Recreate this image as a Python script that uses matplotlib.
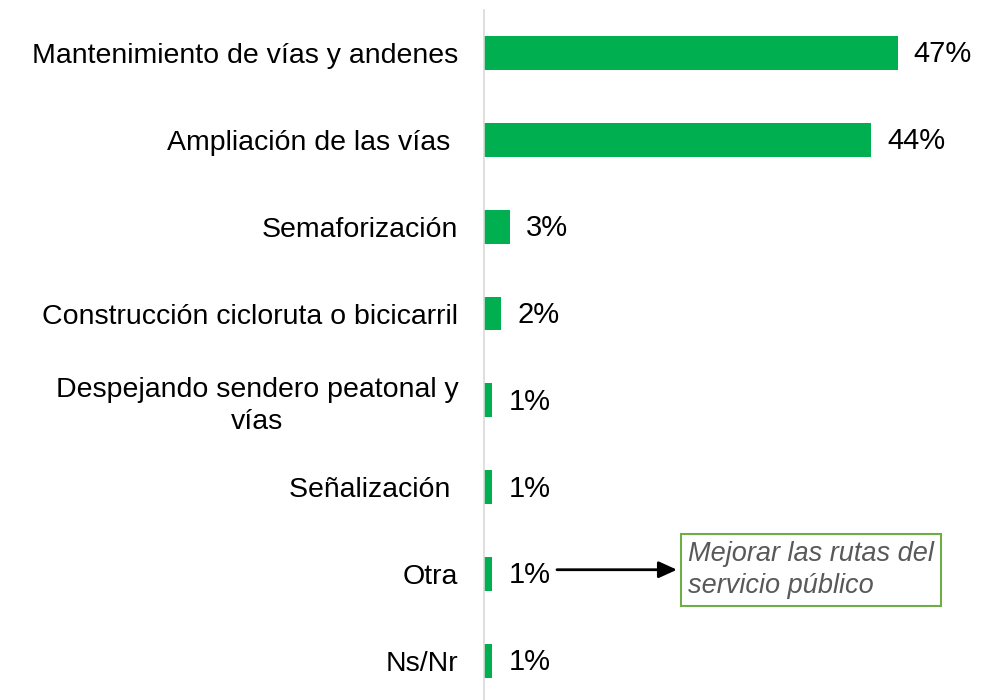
import matplotlib
matplotlib.use("Agg")
import matplotlib.pyplot as plt

categories = [
    "Mantenimiento de vías y andenes",
    "Ampliación de las vías ",
    "Semaforización",
    "Construcción cicloruta o bicicarril",
    "Despejando sendero peatonal y\nvías",
    "Señalización ",
    "Otra",
    "Ns/Nr",
]
values = [47, 44, 3, 2, 1, 1, 1, 1]
note_text = "Mejorar las rutas del\nservicio público"
note_row = 6

plt.rcParams['font.family'] = ['Liberation Sans', 'DejaVu Sans']

fig = plt.figure(figsize=(9.82, 7.0), dpi=100)
ax = fig.add_axes([483.5 / 982, 0.0, 1 - 483.5 / 982, 690 / 700])

ypos = list(range(len(categories)))
ax.barh(ypos, values, height=0.39, color='#00B050')

ax.set_xlim(0, (982 - 483.5) / 8.81)
ax.set_ylim(7.45, -0.495)

ax.set_yticks(ypos)
ax.set_yticklabels(categories, fontsize=20.5, multialignment='center',
                   linespacing=1.3)
ax.tick_params(axis='y', length=0, pad=18)
ax.set_xticks([])

for s in ['top', 'right', 'bottom']:
    ax.spines[s].set_visible(False)
ax.spines['left'].set_color('#D9D9D9')
ax.spines['left'].set_linewidth(1.2)

for i, v in enumerate(values):
    ax.annotate(f"{v}%", xy=(v, i), xytext=(11.5, -1), textcoords='offset points',
                ha='left', va='center', fontsize=21, color='black')

# callout for "Otra"
note_y = note_row - 0.05
ax.annotate('', xy=(21.96, note_y), xytext=(8.34, note_y),
            arrowprops=dict(arrowstyle='-|>,head_length=1.1,head_width=0.5',
                            color='black', lw=2, shrinkA=0, shrinkB=0))
ax.text(23.2, note_y, note_text, ha='left', va='center', fontsize=19.5,
        style='italic', color='#595959', linespacing=1.3,
        bbox=dict(boxstyle='square,pad=0.25', fc='white', ec='#70AD47', lw=1.5))

fig.savefig("out.png", dpi=100)
